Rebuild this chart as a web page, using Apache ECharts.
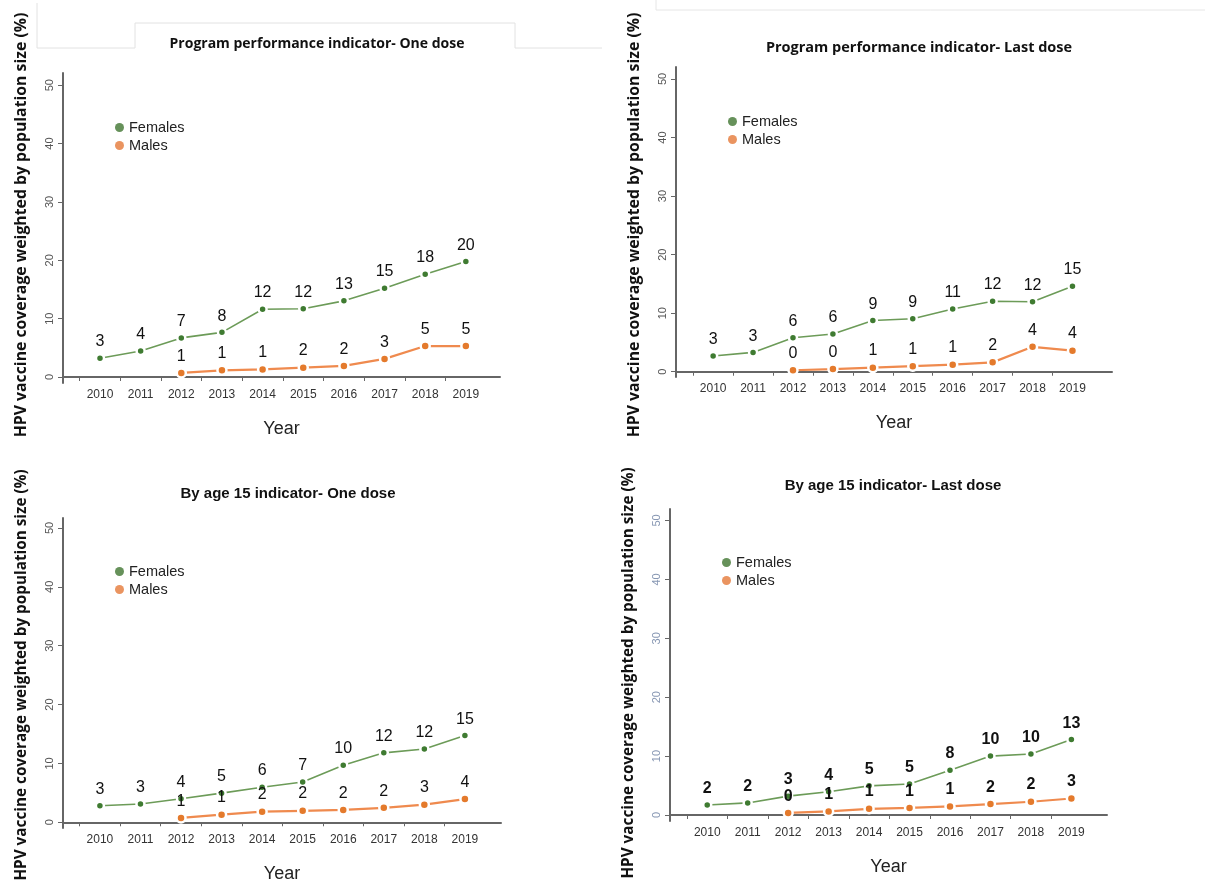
<!DOCTYPE html>
<html>
<head>
<meta charset="utf-8">
<script src="https://cdn.jsdelivr.net/npm/echarts@6/dist/echarts.min.js"></script>
<style>
  html, body { margin: 0; padding: 0; background: #fff; }
  #main { width: 1205px; height: 884px; }
</style>
</head>
<body>
<div id="main"></div>
<script>
// years on the x axis
var years = [2010, 2011, 2012, 2013, 2014, 2015, 2016, 2017, 2018, 2019];
var yTicks = [0, 10, 20, 30, 40, 50];

// coverage (%), null = no point
var progOneFemales = [3.2, 4.45, 6.7, 7.65, 11.6, 11.7, 13.05, 15.2, 17.6, 19.8];
var progOneMales = [null, null, 0.7, 1.15, 1.3, 1.6, 1.9, 3.1, 5.3, 5.3];
var progLastFemales = [2.7, 3.3, 5.8, 6.45, 8.75, 9.05, 10.7, 12.05, 11.95, 14.6];
var progLastMales = [null, null, 0.25, 0.45, 0.7, 0.95, 1.2, 1.6, 4.25, 3.6];
var ageOneFemales = [2.8, 3.1, 4.0, 4.95, 5.95, 6.85, 9.7, 11.8, 12.45, 14.75];
var ageOneMales = [null, null, 0.75, 1.3, 1.8, 1.95, 2.1, 2.45, 3.0, 3.95];
var ageLastFemales = [1.7, 2.05, 3.2, 3.95, 4.95, 5.25, 7.6, 10.0, 10.35, 12.8];
var ageLastMales = [null, null, 0.35, 0.6, 1.05, 1.2, 1.45, 1.85, 2.25, 2.8];

var ARIAL = "'Liberation Sans', Arial, sans-serif";
var CAL = "'Open Sans', 'Noto Sans', sans-serif";

var GREEN_PT = '#3f7b31', GREEN_LN = '#6c9b58', GREEN_LG = '#66915a';
var ORANGE_PT = '#e47a2c', ORANGE_LN = '#ef8a4e', ORANGE_LG = '#ea9460';

function pairs(vals) {
    var out = [];
    for (var i = 0; i < years.length; i++) {
        if (vals[i] !== null) out.push([years[i], vals[i]]);
    }
    return out;
}

// panel layout (pixel boxes of the four plots); namePad moves the y title along its axis
var panels = [
    { left: 63, top: 73, width: 437, height: 310, xmin: 2009.09, xmax: 2019.84, ymin: -1.03, ymax: 52.1,
      fem: progOneFemales, mal: progOneMales, bold: false, tickColor: '#555', namePad: [0, 0, 0, 6], nameSize: 15.8 },
    { left: 676, top: 67, width: 436, height: 310, xmin: 2009.07, xmax: 2019.99, ymin: -0.9, ymax: 52.05,
      fem: progLastFemales, mal: progLastMales, bold: false, tickColor: '#555', namePad: [0, 6, 0, 0], nameSize: 15.8 },
    { left: 63, top: 518, width: 438, height: 310, xmin: 2009.09, xmax: 2019.89, ymin: -0.97, ymax: 51.7,
      fem: ageOneFemales, mal: ageOneMales, bold: false, tickColor: '#555', namePad: [0, 4, 0, 0], nameSize: 15.3 },
    { left: 670, top: 509, width: 437, height: 312, xmin: 2009.08, xmax: 2019.88, ymin: -1.02, ymax: 51.95,
      fem: ageLastFemales, mal: ageLastMales, bold: true, tickColor: '#8797b3', namePad: [0, 16, 0, 0], nameSize: 15.3 }
];

var titles = [
    { text: 'Program performance indicator- One dose', left: 312, top: 32, font: CAL, size: 14 },
    { text: 'Program performance indicator- Last dose', left: 914, top: 35, font: CAL, size: 14.5 },
    { text: 'By age 15 indicator- One dose', left: 283, top: 481, font: ARIAL, size: 15 },
    { text: 'By age 15 indicator- Last dose', left: 888, top: 473, font: ARIAL, size: 15 }
];

var legendPos = [
    { left: 110, top: 115 },
    { left: 723, top: 109 },
    { left: 110, top: 559 },
    { left: 717, top: 550 }
];

var grid = [], xAxis = [], yAxis = [], series = [], title = [], legend = [];

panels.forEach(function (p, i) {
    grid.push({ left: p.left, top: p.top, width: p.width, height: p.height,
        containLabel: false, outerBoundsMode: 'none' });
    xAxis.push({
        type: 'value', gridIndex: i, min: p.xmin, max: p.xmax,
        name: 'Year', nameLocation: 'middle', nameGap: 37,
        nameTextStyle: { fontFamily: ARIAL, fontSize: 18, color: '#222' },
        axisLine: { show: true, lineStyle: { color: '#666', width: 2 } },
        axisTick: { show: true, length: 4, lineStyle: { color: '#666' },
            customValues: years.map(function (y) { return y - 0.5; }) },
        axisLabel: { customValues: years, margin: 6, fontFamily: ARIAL, fontSize: 12, color: '#333',
            formatter: function (v) { return String(v); } },
        splitLine: { show: false }
    });
    yAxis.push({
        type: 'value', gridIndex: i, min: p.ymin, max: p.ymax,
        name: 'HPV vaccine coverage weighted by population size (%)',
        nameLocation: 'middle', nameRotate: 90, nameGap: 34,
        nameTextStyle: { fontFamily: CAL, fontWeight: 'bold', fontSize: p.nameSize,
            color: '#111', padding: p.namePad },
        axisLine: { show: true, lineStyle: { color: '#666', width: 2 } },
        axisTick: { show: true, length: 5, lineStyle: { color: '#666' }, customValues: yTicks },
        axisLabel: { customValues: yTicks, rotate: 90, margin: 8, fontFamily: ARIAL, fontSize: 11, color: p.tickColor },
        splitLine: { show: false }
    });
    var lbl = {
        show: true, position: 'top', distance: 3, color: '#111',
        fontFamily: ARIAL, fontSize: 16, fontWeight: p.bold ? 'bold' : 'normal',
        formatter: function (d) { return Math.round(d.value[1]); }
    };
    series.push({
        name: 'Females', type: 'line', xAxisIndex: i, yAxisIndex: i,
        data: pairs(p.fem), symbol: 'circle', symbolSize: 8,
        itemStyle: { color: GREEN_PT, borderColor: '#fff', borderWidth: 2.5 },
        lineStyle: { color: GREEN_LN, width: 1.6 },
        label: lbl, z: 3
    });
    series.push({
        name: 'Males', type: 'line', xAxisIndex: i, yAxisIndex: i,
        data: pairs(p.mal), symbol: 'circle', symbolSize: 9,
        itemStyle: { color: ORANGE_PT, borderColor: '#fff', borderWidth: 2.5 },
        lineStyle: { color: ORANGE_LN, width: 2.2 },
        label: lbl, z: 4
    });
    title.push({
        text: titles[i].text, left: titles[i].left, top: titles[i].top, textAlign: 'center',
        textStyle: { fontFamily: titles[i].font, fontSize: titles[i].size, fontWeight: 'bold', color: '#111' }
    });
    legend.push({
        left: legendPos[i].left, top: legendPos[i].top, orient: 'vertical',
        itemWidth: 9, itemHeight: 9, itemGap: 3,
        textStyle: { fontFamily: ARIAL, fontSize: 14.5, color: '#222', padding: [0, 0, 0, 0] },
        data: [
            { name: 'Females', icon: 'circle', itemStyle: { color: GREEN_LG, borderWidth: 0 } },
            { name: 'Males', icon: 'circle', itemStyle: { color: ORANGE_LG, borderWidth: 0 } }
        ]
    });
});

var chart = echarts.init(document.getElementById('main'));
chart.setOption({
    backgroundColor: '#fff',
    animation: false,
    title: title,
    legend: legend,
    grid: grid,
    xAxis: xAxis,
    yAxis: yAxis,
    series: series,
    graphic: [
        { type: 'polyline', silent: true,
          shape: { points: [[37, 3], [37, 48], [135, 48], [135, 23], [515, 23], [515, 48], [602, 48]] },
          style: { stroke: '#e2e2e2', lineWidth: 1, fill: null } },
        { type: 'polyline', silent: true,
          shape: { points: [[656, 0], [656, 10], [1205, 10]] },
          style: { stroke: '#e6e6e6', lineWidth: 1, fill: null } }
    ]
});
</script>
</body>
</html>
